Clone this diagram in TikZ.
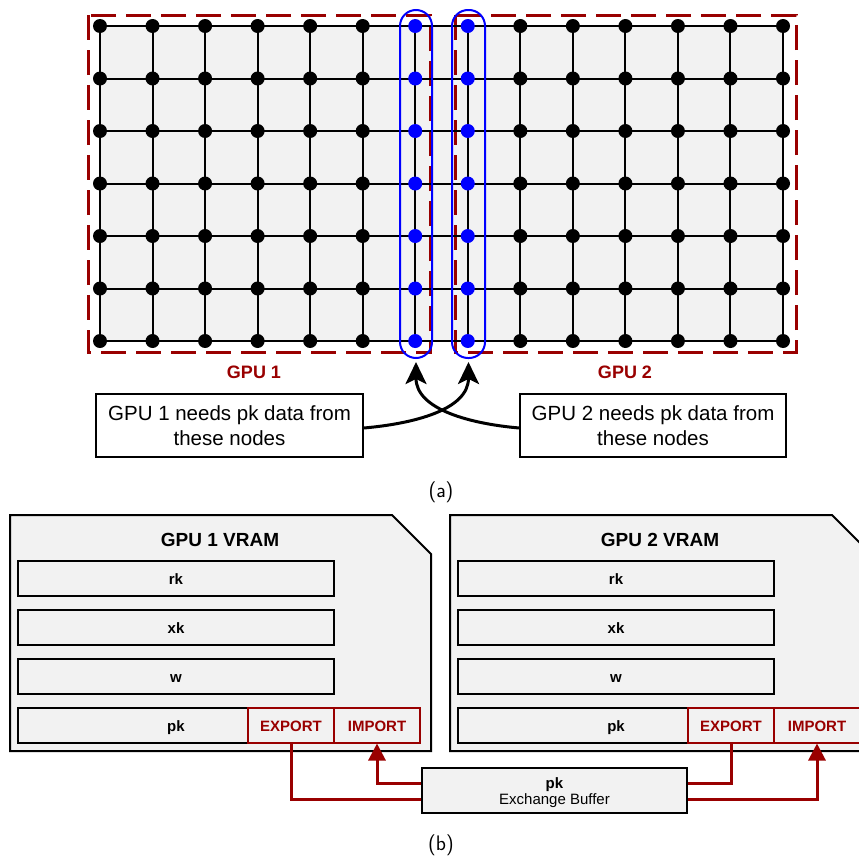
\documentclass[tikz,border=0pt]{standalone}
\usepackage{fontspec}
\setmainfont{Liberation Sans}
\usetikzlibrary{arrows.meta,calc}
\definecolor{dred}{HTML}{990000}
\definecolor{lgray}{HTML}{F2F2F2}
\definecolor{nblue}{HTML}{0000FF}
\begin{document}
\begin{tikzpicture}[x=1pt,y=-1pt,
  gridline/.style={line width=2pt, black},
  bnode/.style={circle, fill=black, inner sep=0pt, minimum size=14pt},
  bluenode/.style={circle, fill=nblue, inner sep=0pt, minimum size=14pt},
  gpubox/.style={draw=dred, line width=3pt, dash pattern=on 25pt off 10pt},
  colbox/.style={draw=nblue, line width=2pt, rounded corners=16pt, inner sep=0pt},
  callout/.style={draw, line width=1.6pt, fill=white, align=center, font=\fontsize{20.5}{25}\selectfont, inner sep=0pt, minimum height=63pt},
  curvearrow/.style={line width=3pt, -{Stealth[length=22pt,width=21pt,inset=5pt]}},
  gpulabel/.style={text=dred, font=\bfseries\fontsize{18}{20}\selectfont},
  vram/.style={draw, line width=2pt, fill=lgray},
  memtitle/.style={font=\bfseries\fontsize{19}{22}\selectfont},
  membox/.style={draw, line width=2pt, fill=lgray, inner sep=0pt, minimum width=316pt, minimum height=35pt, text height=12pt, text depth=0pt, font=\bfseries\fontsize{15}{17}\selectfont},
  xbox/.style={draw=dred, line width=2pt, fill=lgray, inner sep=0pt, minimum width=86pt, minimum height=35pt, text height=12pt, text depth=0pt, text=dred, font=\bfseries\fontsize{15}{17}\selectfont},
  bufbox/.style={draw, line width=2pt, fill=lgray, inner sep=0pt, minimum width=265pt, minimum height=45pt, align=center, font=\fontsize{15}{18}\selectfont},
  redline/.style={draw=dred, line width=3pt},
  redarrow/.style={draw=dred, line width=3pt, -{Triangle[length=17pt,width=17pt]}},
  caption/.style={font=\sffamily\fontsize{21}{25}\selectfont}
]
\useasboundingbox (0,0) rectangle (859,857);
\clip (0,0) rectangle (859,857);

% ---------- (a) grid ----------
\fill[lgray] (100,26) rectangle (783,341);
\draw[gpubox] (88,15) rectangle (430,352);
\draw[gpubox] (455,15) rectangle (796,352);

\foreach \i in {0,...,13}{
  \foreach \j in {0,...,6}{
    \coordinate (g-\i-\j) at ({100+52.54*\i},{26+52.5*\j});
  }
}
\foreach \j in {0,...,6}{ \draw[gridline] (g-0-\j) -- (g-13-\j); }
\foreach \i in {0,...,13}{ \draw[gridline] (g-\i-0) -- (g-\i-6); }
\foreach \i in {0,...,5,8,9,...,13}{
  \foreach \j in {0,...,6}{ \node[bnode] (n-\i-\j) at (g-\i-\j) {}; }
}
\foreach \i in {6,7}{
  \foreach \j in {0,...,6}{ \node[bluenode] (n-\i-\j) at (g-\i-\j) {}; }
}

\node[colbox, minimum width=32pt, minimum height=348pt] (col1) at (416,184) {};
\node[colbox, minimum width=33pt, minimum height=348pt] (col2) at (468.5,184) {};

\node[gpulabel] (lab1) at (254,372) {GPU 1};
\node[gpulabel] (lab2) at (625,372) {GPU 2};

\node[callout, minimum width=267pt] (lbox) at (229.5,425.5) {GPU 1 needs pk data from\\these nodes};
\node[callout, minimum width=266pt] (rbox) at (653,425.5) {GPU 2 needs pk data from\\these nodes};

\draw[curvearrow] ([yshift=-2.5pt]lbox.east) to[out=5, in=-90] ([yshift=-3pt]col2.south);
\draw[curvearrow] ([yshift=-2.5pt]rbox.west) to[out=175, in=-90] ([yshift=-3pt]col1.south);

\node[caption] (capa) at (441,492) {(a)};

% ---------- (b) memory ----------
\foreach \k/\d in {1/0,2/440}{
  \begin{scope}[xshift=\d]
    \draw[vram] (10,515) -- (392,515) -- (431,554) -- (431,751) -- (10,751) -- cycle;
    \node[memtitle] (title\k) at (220,540) {GPU \k\ VRAM};
    \node[membox] (rk\k) at (176,578.5) {rk};
    \node[membox] (xk\k) at (176,627.5) {xk};
    \node[membox] (w\k) at (176,676.5) {w};
    \node[membox] (pk\k) at (176,725) {pk};
    \node[xbox] (exp\k) at (291,725) {EXPORT};
    \node[xbox] (imp\k) at (377,725) {IMPORT};
  \end{scope}
}

\node[bufbox] (buf) at (554.5,790.5) {\rule{0pt}{15pt}\textbf{pk}\\[-2pt]Exchange Buffer};

\draw[redline] (exp1.south) |- ([yshift=-8.5pt]buf.west);
\draw[redarrow] ([yshift=7.5pt]buf.west) -| (imp1.south);
\draw[redline] (exp2.south) |- ([yshift=7.5pt]buf.east);
\draw[redarrow] ([yshift=-8.5pt]buf.east) -| (imp2.south);

\node[caption] (capb) at (441,845) {(b)};
\end{tikzpicture}
\end{document}
